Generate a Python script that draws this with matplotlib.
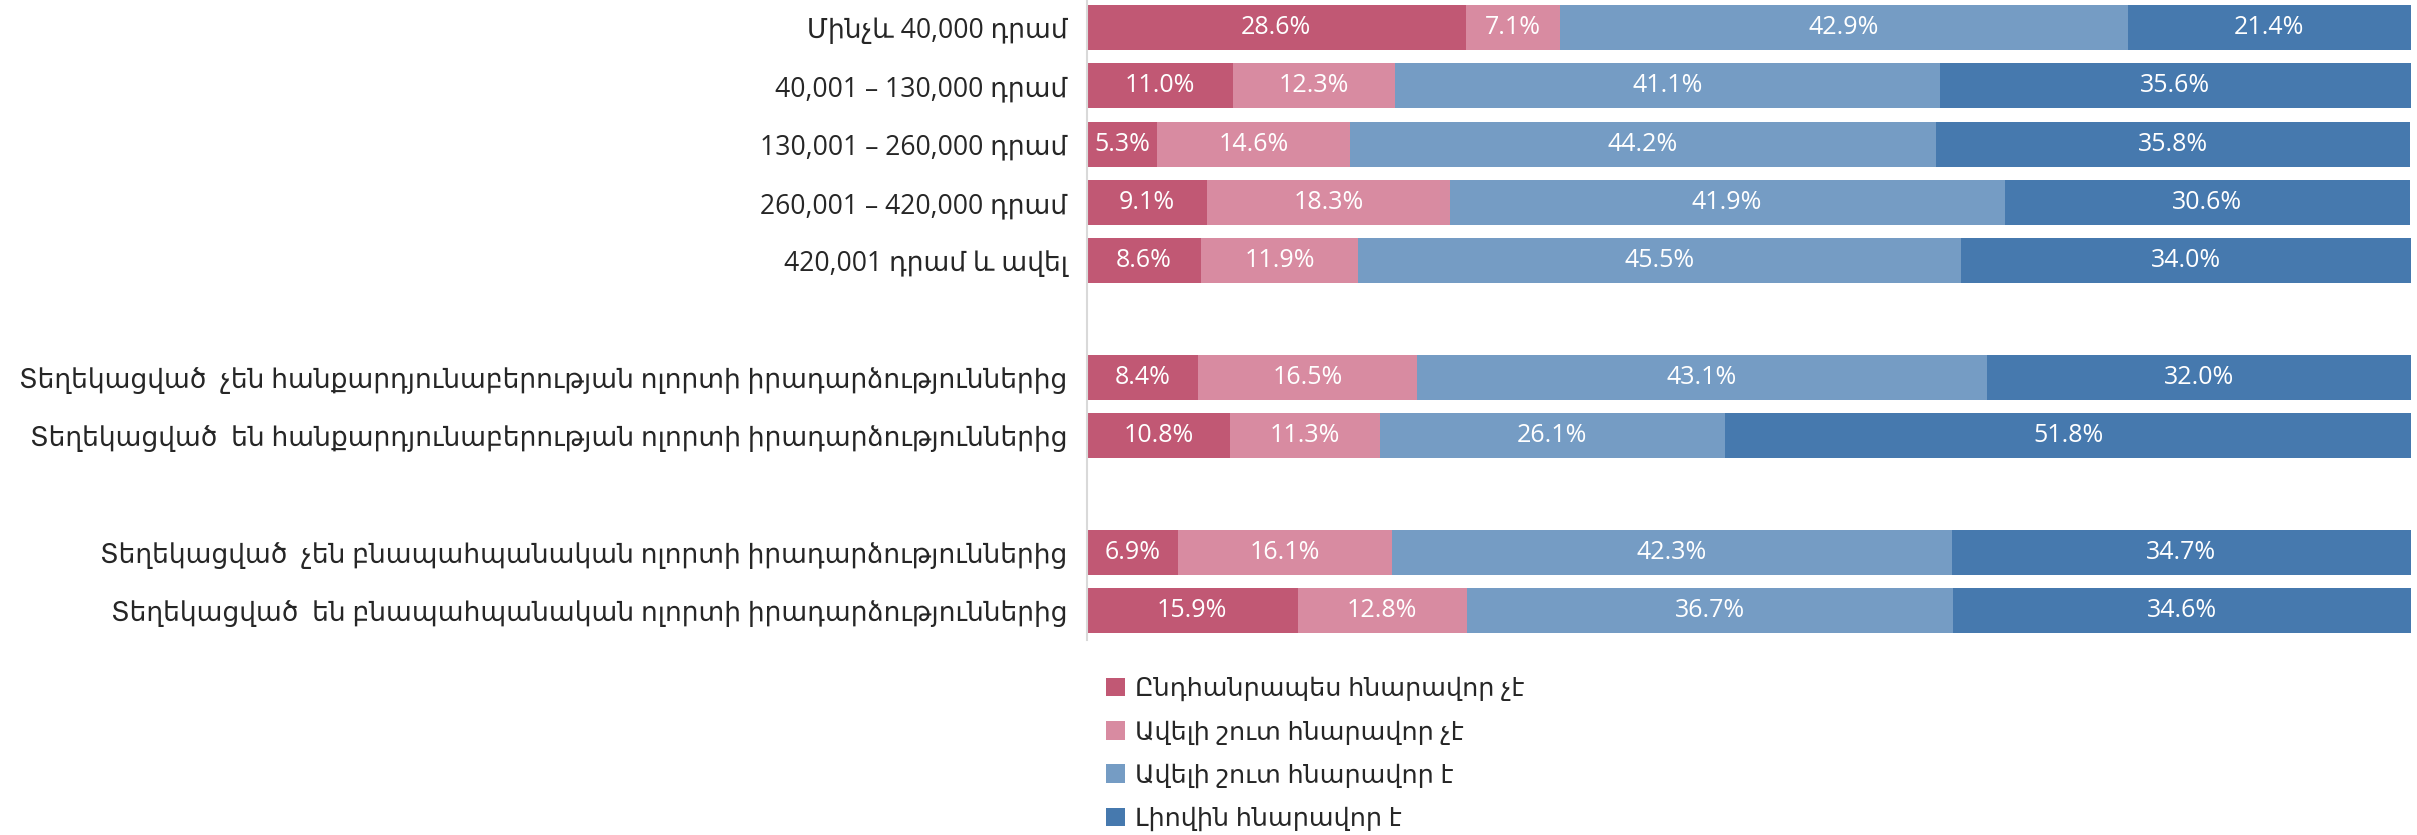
import matplotlib
matplotlib.use("Agg")
import matplotlib.pyplot as plt

plt.rcParams['font.family'] = ['Open Sans', 'DejaVu Sans']

categories = [
    'Մինչև 40,000 դրամ',
    '40,001 – 130,000 դրամ',
    '130,001 – 260,000 դրամ',
    '260,001 – 420,000 դրամ',
    '420,001 դրամ և ավել',
    'Տեղեկացված  չեն հանքարդյունաբերության ոլորտի իրադարձություններից',
    'Տեղեկացված  են հանքարդյունաբերության ոլորտի իրադարձություններից',
    'Տեղեկացված  չեն բնապահպանական ոլորտի իրադարձություններից',
    'Տեղեկացված  են բնապահպանական ոլորտի իրադարձություններից',
]
group_sizes = [5, 2, 2]

series_names = [
    'Ընդհանրապես հնարավոր չէ',
    'Ավելի շուտ հնարավոր չէ',
    'Ավելի շուտ հնարավոր է',
    'Լիովին հնարավոր է',
]
s1 = [28.6, 11.0, 5.3, 9.1, 8.6, 8.4, 10.8, 6.9, 15.9]
s2 = [7.1, 12.3, 14.6, 18.3, 11.9, 16.5, 11.3, 16.1, 12.8]
s3 = [42.9, 41.1, 44.2, 41.9, 45.5, 43.1, 26.1, 42.3, 36.7]
s4 = [21.4, 35.6, 35.8, 30.6, 34.0, 32.0, 51.8, 34.7, 34.6]
series = [s1, s2, s3, s4]
colors = ['#C15874', '#D88BA1', '#759CC4', '#4679AE']

# positions with a one-row gap between groups
positions = []
p = 0
for g in group_sizes:
    for _ in range(g):
        positions.append(p)
        p += 1
    p += 1

fig = plt.figure(figsize=(24.17, 8.35), dpi=100)
ax = fig.add_axes([1087/2417, 1 - 640/835, (2411-1087)/2417, 640/835])

left = [0.0] * len(categories)
handles = []
for vals, col, name in zip(series, colors, series_names):
    bars = ax.barh(positions, vals, left=left, height=0.772, color=col, label=name)
    handles.append(bars)
    for y, l, v in zip(positions, left, vals):
        ax.text(l + v / 2, y, f'{v:.1f}%', ha='center', va='center',
                color='white', fontsize=18)
    left = [a + b for a, b in zip(left, vals)]

ax.set_xlim(0, 100)
ax.set_ylim(10.5, -0.47)
ax.set_yticks(positions)
ax.set_yticklabels(categories, fontsize=19.1, color='#262626')
ax.tick_params(axis='y', length=0, pad=14)
ax.set_xticks([])
for s in ['top', 'right', 'bottom']:
    ax.spines[s].set_visible(False)
ax.spines['left'].set_color('#D9D9D9')
ax.spines['left'].set_linewidth(1.5)

leg = fig.legend(handles=handles, labels=series_names, loc='upper left',
                 bbox_to_anchor=(1106/2417, 1 - 677/835), frameon=False,
                 fontsize=18.3, handlelength=0.75, handleheight=0.75,
                 handletextpad=0.4, labelspacing=0.72, borderaxespad=0,
                 borderpad=0)
for t in leg.get_texts():
    t.set_color('#262626')

fig.savefig('out.png', dpi=100)
